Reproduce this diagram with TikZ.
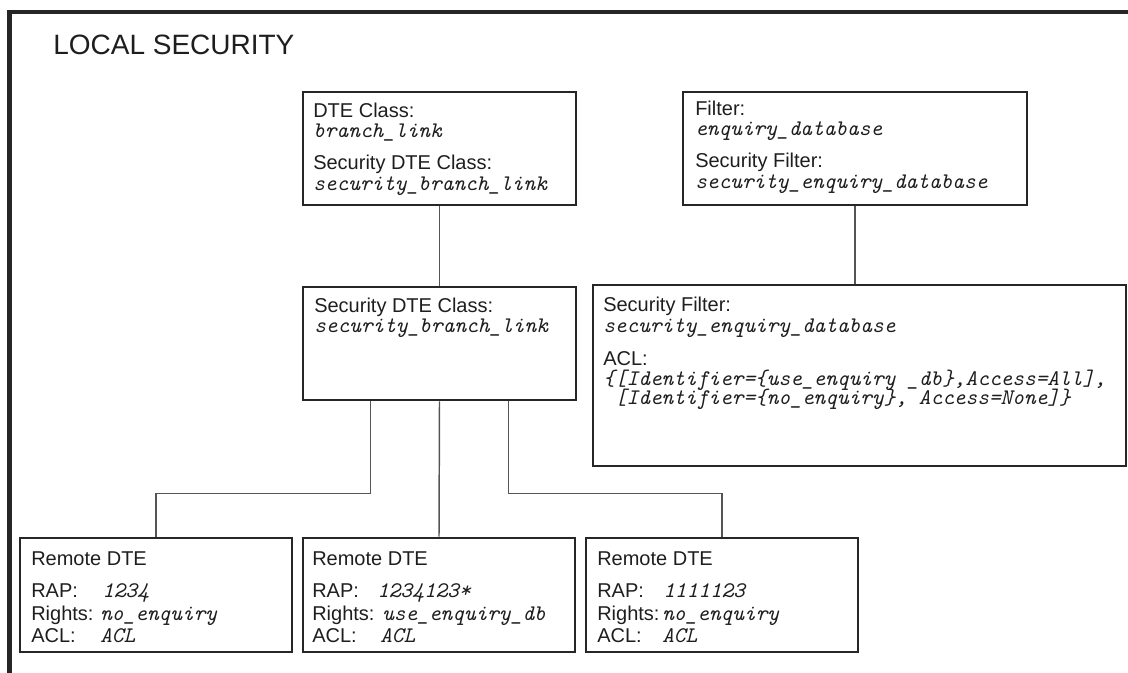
\documentclass[tikz,border=0pt]{standalone}
\usepackage{fontspec}
\setmainfont{Liberation Sans}
\usetikzlibrary{fit,calc}
\definecolor{ink}{HTML}{1E1E1E}
\definecolor{edgec}{HTML}{262626}
\definecolor{wirec}{HTML}{555555}
\newcommand{\lblfont}{\fontsize{15pt}{17pt}\selectfont}
\newcommand{\valfont}{\fontsize{16.7pt}{18pt}\selectfont\ttfamily\itshape}
\begin{document}
\begin{tikzpicture}[x=0.75pt,y=-0.75pt,
  frame/.style={draw=edgec, line width=3.4pt},
  box/.style={draw=edgec, line width=2.2pt, inner sep=0pt},
  lbl/.style={anchor=base west, inner sep=0pt, font=\lblfont, text=ink},
  val/.style={anchor=base west, inner sep=0pt, font=\valfont, text=ink},
  wire/.style={draw=wirec, line width=1.1pt}]
\useasboundingbox (0,0) rectangle (1128,673);

% outer frame, open to the right and bottom
\draw[frame] (1128,12) -- (9.5,12) -- (9.5,673);
\node[anchor=base west, inner sep=0pt, font=\fontsize{21pt}{24pt}\selectfont, text=ink] (title) at (53,55) {LOCAL SECURITY};

% boxes
\node[box, fit={(303,92) (576,205)}] (dte) {};
\node[box, fit={(683,92) (1027,205)}] (filt) {};
\node[box, fit={(303,287) (576,400)}] (mid) {};
\node[box, fit={(593,285) (1126,466)}] (secf) {};
\node[box, fit={(20,538) (292,652)}] (remA) {};
\node[box, fit={(303,538) (575,652)}] (remB) {};
\node[box, fit={(586,538) (858,652)}] (remC) {};

% connectors
\draw[wire] (dte.south) -- (mid.north);
\draw[wire] (filt.south) -- (filt.south |- secf.north);
\draw[wire] ($(mid.south west)!0.25!(mid.south east)$) -- ++(0,92) -| (remA.north);
\draw[wire] (mid.south) -- (remB.north);
\draw[wire] ($(mid.south west)!0.75!(mid.south east)$) -- ++(0,92) -| (remC.north);

% DTE class box
\node[lbl] (d1) at (313,118) {DTE Class:};
\node[val] (d2) at (313,138) {branch\_link};
\node[lbl] (d3) at (313,170) {Security DTE Class:};
\node[val] (d4) at (313,191) {security\_branch\_link};

% filter box
\node[lbl] (f1) at (695,116) {Filter:};
\node[val] (f2) at (695,136) {enquiry\_database};
\node[lbl] (f3) at (695,168) {Security Filter:};
\node[val] (f4) at (695,189) {security\_enquiry\_database};

% security DTE class box
\node[lbl] (m1) at (314,313) {Security DTE Class:};
\node[val] (m2) at (314,333) {security\_branch\_link};

% security filter box
\node[lbl] (s1) at (603,312) {Security Filter:};
\node[val] (s2) at (603,333) {security\_enquiry\_database};
\node[lbl] (s3) at (603,366) {ACL:};
\node[val] (s4) at (603,386) {\{[Identifier=\{use\_enquiry \_db\},Access=All],};
\node[val] (s5) at (614.7,405) {[Identifier=\{no\_enquiry\}, Access=None]\}};

% remote DTEs
\node[lbl] (a1) at (31,565) {Remote DTE};
\node[lbl] (a2) at (31,597) {RAP:};
\node[val] (a3) at (102,597) {1234};
\node[lbl] (a4) at (31,620) {Rights:};
\node[val] (a5) at (100,620) {no\_enquiry};
\node[lbl] (a6) at (31,642) {ACL:};
\node[val] (a7) at (100,642) {ACL};

\node[lbl] (b1) at (312,565) {Remote DTE};
\node[lbl] (b2) at (312,597) {RAP:};
\node[val] (b3) at (377,597) {1234123*};
\node[lbl] (b4) at (312,620) {Rights:};
\node[val] (b5) at (382,620) {use\_enquiry\_db};
\node[lbl] (b6) at (312,642) {ACL:};
\node[val] (b7) at (380,642) {ACL};

\node[lbl] (c1) at (597,565) {Remote DTE};
\node[lbl] (c2) at (597,597) {RAP:};
\node[val] (c3) at (663,597) {1111123};
\node[lbl] (c4) at (597,620) {Rights:};
\node[val] (c5) at (662,620) {no\_enquiry};
\node[lbl] (c6) at (597,642) {ACL:};
\node[val] (c7) at (662,642) {ACL};
\end{tikzpicture}
\end{document}
